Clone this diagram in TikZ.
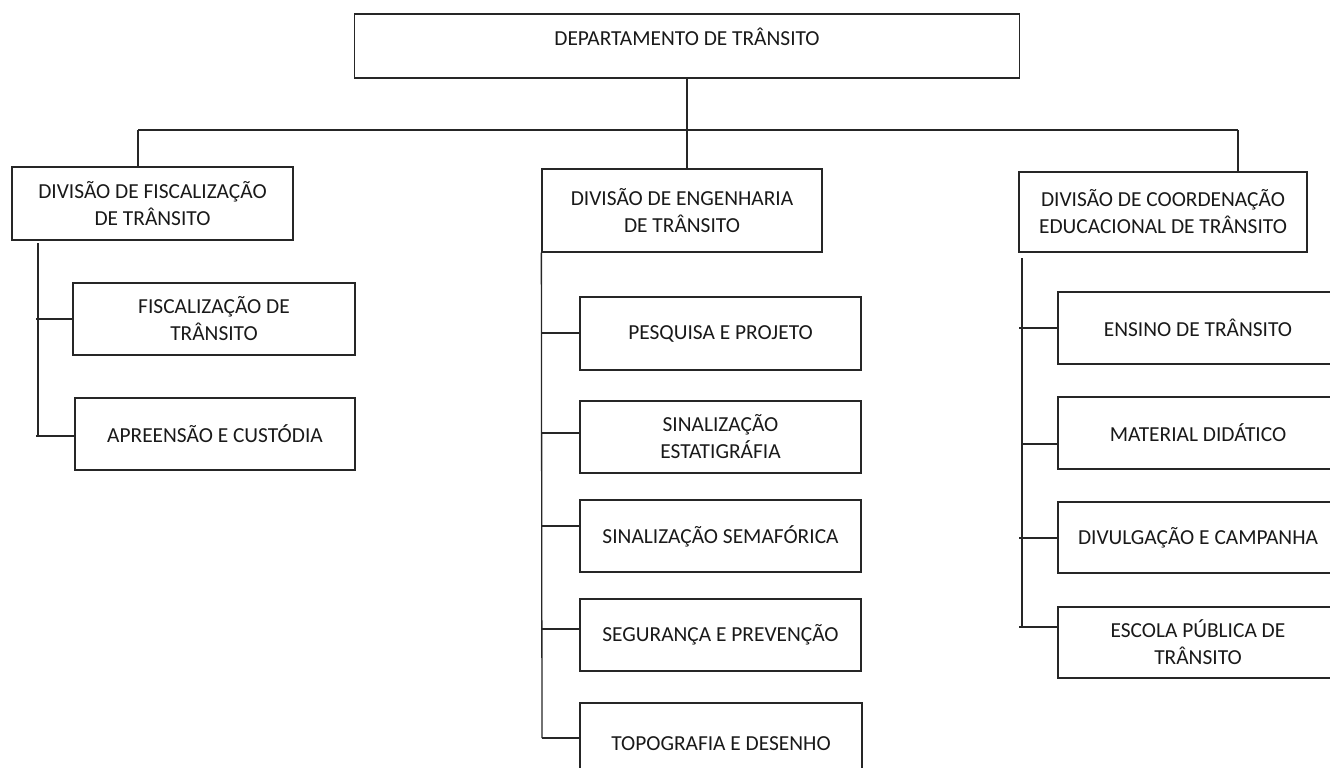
\documentclass[tikz,border=0pt]{standalone}
\usepackage{fontspec}
\setmainfont{Carlito}
\begin{document}
\begin{tikzpicture}[x=1pt,y=-1pt,
  box/.style={draw=black!85, line width=1.3pt, inner sep=0pt, align=center,
    text=black!90, font=\fontsize{21.4}{27}\selectfont},
  conn/.style={draw=black!85, line width=1.3pt},
  lbl/.style={inner sep=0pt, align=center, text=black!90, font=\fontsize{21.4}{27}\selectfont}]
\useasboundingbox (0,0) rectangle (1330,768);
% top
\node[box, minimum width=665pt, minimum height=64pt] (top) at (687,46) {};
\node[lbl] (toptext) at (687,37) {DEPARTAMENTO DE TRÂNSITO};
% divisions
\node[box, minimum width=281pt, minimum height=73pt] (fis) at (152.5,203.5) {DIVISÃO DE FISCALIZAÇÃO\\DE TRÂNSITO};
\node[box, minimum width=280pt, minimum height=83pt] (eng) at (682,210.5) {DIVISÃO DE ENGENHARIA\\DE TRÂNSITO};
\node[box, minimum width=288pt, minimum height=80pt] (edu) at (1163,212) {DIVISÃO DE COORDENAÇÃO\\EDUCACIONAL DE TRÂNSITO};
% fiscalizacao children
\node[box, minimum width=282pt, minimum height=72pt] (fis1) at (214,319) {FISCALIZAÇÃO DE\\TRÂNSITO};
\node[box, minimum width=280pt, minimum height=72pt] (fis2) at (215,434) {APREENSÃO E CUSTÓDIA};
% engenharia children
\node[box, minimum width=281pt, minimum height=73pt] (e1) at (720.5,333.5) {PESQUISA E PROJETO};
\node[box, minimum width=281pt, minimum height=72pt] (e2) at (720.5,437) {SINALIZAÇÃO\\ESTATIGRÁFIA};
\node[box, minimum width=281pt, minimum height=72pt] (e3) at (720.5,536) {SINALIZAÇÃO SEMAFÓRICA};
\node[box, minimum width=281pt, minimum height=72pt] (e4) at (720.5,635) {SEGURANÇA E PREVENÇÃO};
\node[box, minimum width=282pt, minimum height=82pt] (e5) at (721,744) {TOPOGRAFIA E DESENHO};
% educacional children
\node[box, minimum width=280pt, minimum height=72pt] (c1) at (1198,328) {ENSINO DE TRÂNSITO};
\node[box, minimum width=280pt, minimum height=72pt] (c2) at (1198,433) {MATERIAL DIDÁTICO};
\node[box, minimum width=280pt, minimum height=71pt] (c3) at (1198,537.5) {DIVULGAÇÃO E CAMPANHA};
\node[box, minimum width=280pt, minimum height=71pt] (c4) at (1198,642.5) {ESCOLA PÚBLICA DE\\TRÂNSITO};
% top level connectors
\coordinate (bl) at (138,130);
\coordinate (br) at (1238,130);
\draw[conn] (top.south) -- (top.south |- eng.north);
\draw[conn] (bl) -- (br);
\draw[conn] (bl) -- (bl |- fis.north);
\draw[conn] (br) -- (br |- edu.north);
% fiscalizacao tree
\coordinate (ft) at (38,243);
\coordinate (fk1) at (36,319);
\coordinate (fk2) at (36,436);
\draw[conn] (ft) -- (38,436);
\draw[conn] (fk1) -- (fk1 -| fis1.west);
\draw[conn] (fk2) -- (fk2 -| fis2.west);
% engenharia tree
\coordinate (ek1) at (542,333);
\coordinate (ek2) at (542,433);
\coordinate (ek3) at (542,526);
\coordinate (ek4) at (542,629);
\coordinate (ek5) at (542,738);
\draw[conn] (eng.south west) -- (ek5);
\draw[conn] (ek1) -- (ek1 -| e1.west);
\draw[conn] (ek2) -- (ek2 -| e2.west);
\draw[conn] (ek3) -- (ek3 -| e3.west);
\draw[conn] (ek4) -- (ek4 -| e4.west);
\draw[conn] (ek5) -- (ek5 -| e5.west);
% educacional tree
\coordinate (ct) at (1022,258);
\coordinate (ck1) at (1019,328);
\coordinate (ck2) at (1022,444);
\coordinate (ck3) at (1019,538);
\coordinate (ck4) at (1019,627);
\draw[conn] (ct) -- (1022,627);
\draw[conn] (ck1) -- (ck1 -| c1.west);
\draw[conn] (ck2) -- (ck2 -| c2.west);
\draw[conn] (ck3) -- (ck3 -| c3.west);
\draw[conn] (ck4) -- (ck4 -| c4.west);
\end{tikzpicture}
\end{document}
